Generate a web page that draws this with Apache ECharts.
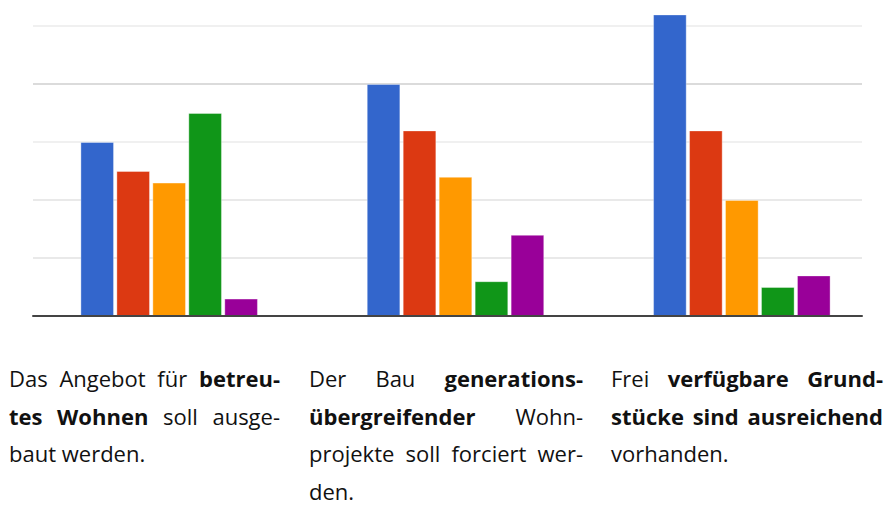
<!DOCTYPE html>
<html>
<head>
<meta charset="utf-8">
<script src="https://cdn.jsdelivr.net/npm/echarts@6/dist/echarts.min.js"></script>
<style>
  html, body { margin: 0; padding: 0; background: #fff; overflow: hidden; width: 885px; height: 507px; }
  #chart { position: absolute; left: 0; top: -32px; width: 885px; height: 539px; }
  .col { position: absolute; top: 360px; font-family: "Open Sans", sans-serif; font-size: 22px; line-height: 37.6px; color: #111; }
  .col div { white-space: nowrap; }
  .col .j { text-align: justify; text-align-last: justify; }
  .col b { font-weight: 700; }
</style>
</head>
<body>
<div id="chart"></div>
<div class="col" style="left:9px;width:271px;">
  <div class="j">Das Angebot für <b>betreu-</b></div>
  <div class="j"><b>tes Wohnen</b> soll ausge-</div>
  <div>baut werden.</div>
</div>
<div class="col" style="left:309px;width:274px;">
  <div class="j">Der Bau <b>generations-</b></div>
  <div class="j"><b>übergreifender</b> Wohn-</div>
  <div class="j">projekte soll forciert wer-</div>
  <div>den.</div>
</div>
<div class="col" style="left:611px;width:272px;">
  <div class="j">Frei <b>verfügbare Grund-</b></div>
  <div class="j"><b>stücke sind ausreichend</b></div>
  <div>vorhanden.</div>
</div>
<script>
const categories = ['Betreutes Wohnen', 'Generationsübergreifende Wohnprojekte', 'Verfügbare Grundstücke'];
const seriesNames = ['1', '2', '3', '4', '5'];
const values1 = [30, 40, 52];
const values2 = [25, 32, 32];
const values3 = [23, 24, 20];
const values4 = [35, 6, 5];
const values5 = [3, 14, 7];
const colors = ['#3366cc', '#dc3912', '#ff9900', '#109618', '#990099'];
const yMin = 0, yMax = 60, yStep = 10;

const allValues = [values1, values2, values3, values4, values5];

const chart = echarts.init(document.getElementById('chart'), null, { renderer: 'svg' });
chart.setOption({
  animation: false,
  backgroundColor: '#ffffff',
  grid: [
    { left: 26, width: 861, top: 0, bottom: 191 },
    { left: 33, width: 829, top: 0, bottom: 191 }
  ],
  xAxis: [
    { gridIndex: 0, type: 'category', data: categories, show: false },
    { gridIndex: 1, type: 'category', data: categories, z: 5,
      axisLine: { show: true, lineStyle: { color: '#444', width: 2 } },
      axisTick: { show: false }, axisLabel: { show: false }, splitLine: { show: false } }
  ],
  yAxis: [
    { gridIndex: 0, type: 'value', min: yMin, max: yMax, interval: yStep, show: false },
    { gridIndex: 1, type: 'value', min: yMin, max: yMax, interval: yStep,
      axisLine: { show: false }, axisTick: { show: false }, axisLabel: { show: false },
      splitLine: { show: true, lineStyle: { width: 1.5, color: ['#dddddd', '#e2e2e2', '#e2e2e2', '#ebebeb', '#cfcfcf', '#ebebeb', '#e2e2e2'] } } }
  ],
  series: allValues.map((vals, i) => ({
    name: seriesNames[i],
    type: 'bar',
    xAxisIndex: 0,
    yAxisIndex: 0,
    data: vals,
    barCategoryGap: '38%',
    barGap: '7%',
    itemStyle: { color: colors[i], borderColor: 'rgba(255,255,255,0.35)', borderWidth: 1 }
  }))
});
</script>
</body>
</html>
